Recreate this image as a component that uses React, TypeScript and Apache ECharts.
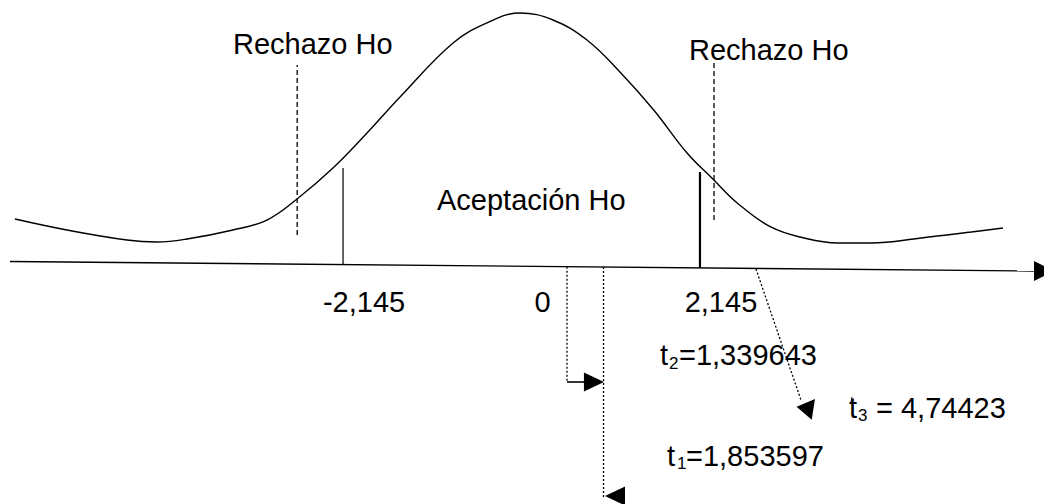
import React, { useEffect, useRef } from "react";
import * as echarts from "echarts";

// Hand-drawn density curve (t units on x, density-like units on y)
const curveT = [
  -6.088, -5.463, -4.742, -4.381, -4.02, -3.468, -3.059, -2.698, -2.266, -1.857,
  -1.46, -0.823, -0.415, -0.018, 0.379, 0.787, 1.183, 1.589, 1.99,
  2.312, 2.593, 2.995, 3.397, 3.798, 4.2, 4.803, 5.405, 5.787,
];
const curveY = [
  0.075, 0.0567, 0.04, 0.0367, 0.0417, 0.0567, 0.0733, 0.1083, 0.16, 0.2183,
  0.2783, 0.3683, 0.4017, 0.4183, 0.4067, 0.3733, 0.32, 0.2567, 0.185,
  0.14, 0.1017, 0.0617, 0.0433, 0.035, 0.035, 0.0433, 0.0533, 0.06,
];

// Horizontal axis (slightly tilted as in the drawing)
const axisT = [-6.148, 6.172];
const axisY = [0.0042, -0.0117];

// Critical values
const criticalValues = [-2.145, 2.145];
const criticalTop = [0.16, 0.1533];
const criticalBottom = [-0.001, -0.0067];

// Rejection (dashed) markers
const rejectT = [-2.696, 2.314];
const rejectTop = [0.3317, 0.3367];
const rejectBottom = [0.0483, 0.0733];

// Tick labels
const tickValues = [-2.145, 0, 2.145];
const tickLabels = ["-2,145", "0", "2,145"];

// Arrow paths for the computed statistics
const t1DropT = [0.547, 0.547];
const t1DropY = [-0.0045, -0.1967];
const t1HookT = [0.547, 0.775];
const t1HookY = [-0.1967, -0.1967];
const t2DropT = [0.986, 0.986];
const t2DropY = [-0.005, -0.3883];
const t3DiagT = [2.818, 3.359];
const t3DiagY = [-0.0083, -0.2267];

// Arrowheads
const arrowT = [0.871, 1.124, 3.407, 6.28];
const arrowY = [-0.1967, -0.3867, -0.24, -0.0117];

const FONT = "'Liberation Sans', Arial, sans-serif";

const pairs = (xs: number[], ys: number[]) => xs.map((x, i) => [x, ys[i]]);

const segLine = (data: number[][], width: number, type: any = "solid") => ({
  type: "line",
  data,
  symbol: "none",
  showSymbol: false,
  silent: true,
  clip: false,
  lineStyle: { color: "#000", width, type },
  z: 3,
});

export default function App() {
  const ref = useRef<HTMLDivElement>(null);

  useEffect(() => {
    if (!ref.current) return;
    const chart = echarts.init(ref.current, undefined, { renderer: "svg" });

    const arrowStyles = [
      { rot: -90, size: [19, 20] },
      { rot: 90, size: [19, 20] },
      { rot: 81, size: [21, 17] },
      { rot: -90, size: [20, 20] },
    ];

    const txt = (text: string, x: number, y: number, size = 29) => ({
      type: "text",
      x,
      y,
      silent: true,
      style: {
        text,
        fill: "#000",
        fontSize: size,
        fontFamily: FONT,
        align: "left",
        verticalAlign: "middle",
      },
    });

    const option: any = {
      animation: false,
      backgroundColor: "#fff",
      grid: { left: 0, right: 0, top: 0, bottom: 0, containLabel: false },
      xAxis: { type: "value", min: -6.268, max: 6.28, show: false },
      yAxis: { type: "value", min: -0.4, max: 0.44, show: false },
      series: [
        {
          type: "line",
          data: pairs(curveT, curveY),
          smooth: 0.4,
          symbol: "none",
          showSymbol: false,
          silent: true,
          lineStyle: { color: "#000", width: 1.4 },
          z: 3,
        },
        segLine(pairs(axisT, axisY), 1.4),
        ...criticalValues.map((v, i) =>
          segLine(
            [
              [v, criticalBottom[i]],
              [v, criticalTop[i]],
            ],
            i === 0 ? 1.2 : 2.2
          )
        ),
        ...rejectT.map((v, i) =>
          segLine(
            [
              [v, rejectBottom[i]],
              [v, rejectTop[i]],
            ],
            1.3,
            [5, 3]
          )
        ),
        segLine(pairs(t1DropT, t1DropY), 1.3, [2, 2]),
        segLine(pairs(t1HookT, t1HookY), 1.6),
        segLine(pairs(t2DropT, t2DropY), 1.3, [2, 2]),
        segLine(pairs(t3DiagT, t3DiagY), 1.3, [2, 2]),
        {
          type: "scatter",
          silent: true,
          clip: false,
          symbol: "triangle",
          itemStyle: { color: "#000", opacity: 1 },
          data: arrowT.map((t, i) => ({
            value: [t, arrowY[i]],
            symbolRotate: arrowStyles[i].rot,
            symbolSize: arrowStyles[i].size,
          })),
          z: 4,
        },
        {
          type: "scatter",
          silent: true,
          clip: false,
          symbolSize: 1,
          itemStyle: { color: "rgba(0,0,0,0)", opacity: 1 },
          data: tickValues.map((v, i) => ({ value: [v, 0], name: tickLabels[i] })),
          label: {
            show: true,
            formatter: "{b}",
            position: "inside",
            offset: [21, 38],
            fontSize: 29,
            fontFamily: FONT,
            color: "#000",
            opacity: 1,
            align: "center",
            verticalAlign: "middle",
          },
          z: 5,
        },
      ],
      graphic: [
        txt("Rechazo Ho", 233, 44),
        txt("Rechazo Ho", 689, 50),
        txt("Aceptación Ho", 437, 200),
        txt("t", 660, 355),
        txt("2", 669, 363, 17),
        txt("=1,339643", 679, 355),
        txt("t", 849, 408),
        {
          type: "line",
          silent: true,
          shape: { x1: 852, y1: 397, x2: 851, y2: 402 },
          style: { stroke: "#000", lineWidth: 1 },
        },
        txt("3", 858, 415, 17),
        txt("= 4,74423", 876, 408),
        txt("t", 667, 456),
        txt("1", 677, 463, 17),
        txt("=1,853597", 686, 456),
      ],
    };

    chart.setOption(option);
    return () => chart.dispose();
  }, []);

  return (
    <div
      ref={ref}
      style={{
        position: "absolute",
        left: 0,
        top: 0,
        width: 1044,
        height: 504,
        background: "#fff",
      }}
    />
  );
}
